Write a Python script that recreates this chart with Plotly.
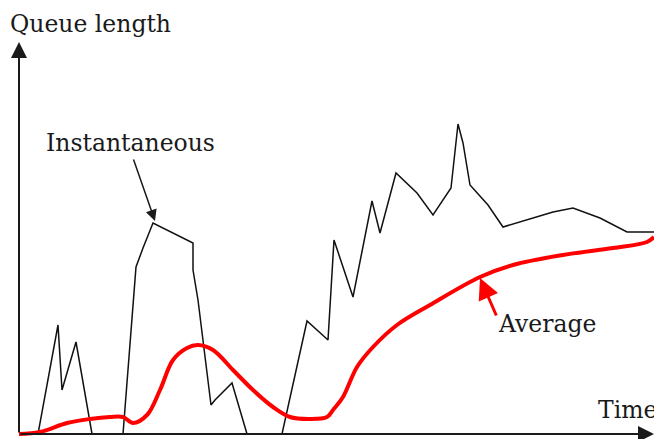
import plotly.graph_objects as go

# Instantaneous queue length (time, length)
inst_time = [0, 19, 39, 43, 57, 73, 104, 114, 117, 124, 134, 174, 174, 179, 192, 196, 213, 228, 263, 288, 309, 315, 334, 353, 361, 377, 398, 414, 432, 439, 444, 451, 469, 484, 534, 554, 581, 608, 635]
inst_len = [0, 0, 109, 44, 92, 0, 0, 136, 167, 186, 211, 191, 164, 134, 29, 34, 51, 0, 0, 113, 94, 194, 137, 233, 201, 261, 241, 219, 246, 310, 291, 249, 229, 207, 222, 226, 216, 202, 202]

# Average queue length
avg_time = [0, 21, 48, 71, 91, 104, 114, 128, 141, 154, 168, 179, 194, 214, 234, 254, 271, 291, 308, 314, 324, 338, 354, 378, 411, 461, 494, 544, 594, 628, 635]
avg_len = [0, 2, 11, 15, 17, 17, 11, 19, 44, 74, 86, 89, 84, 64, 44, 27, 17, 15, 17, 24, 37, 67, 87, 109, 129, 157, 169, 179, 186, 192, 197]

FONT = "DejaVu Serif"
INK = "#1a1a1a"
FS = 23.5

fig = go.Figure()
fig.add_trace(go.Scatter(x=inst_time, y=inst_len, mode="lines",
                         line=dict(color="#111111", width=1.5), hoverinfo="skip"))
fig.add_trace(go.Scatter(x=avg_time, y=avg_len, mode="lines", line_shape="spline",
                         line=dict(color="#ff0000", width=4), hoverinfo="skip"))

annotations = [
    # axes with arrowheads
    dict(x=0, y=392, ax=0, ay=0, xref="x", yref="y", axref="x", ayref="y",
         showarrow=True, arrowhead=2, arrowsize=1.6, arrowwidth=2, arrowcolor=INK, text=""),
    dict(x=635, y=0, ax=0, ay=0, xref="x", yref="y", axref="x", ayref="y",
         showarrow=True, arrowhead=2, arrowsize=1.6, arrowwidth=2, arrowcolor=INK, text=""),
    # labels
    dict(x=-11, y=410, xref="x", yref="y", text="Queue length", showarrow=False,
         xanchor="left", yanchor="middle", font=dict(family=FONT, size=FS, color=INK)),
    dict(x=25, y=291, xref="x", yref="y", text="Instantaneous", showarrow=False,
         xanchor="left", yanchor="middle", font=dict(family=FONT, size=FS, color=INK)),
    dict(x=477, y=110, xref="x", yref="y", text="Average", showarrow=False,
         xanchor="left", yanchor="middle", font=dict(family=FONT, size=FS, color=INK)),
    dict(x=577, y=24, xref="x", yref="y", text="Time", showarrow=False,
         xanchor="left", yanchor="middle", font=dict(family=FONT, size=FS, color=INK)),
    # pointer arrows
    dict(x=136, y=213, ax=114, ay=276, xref="x", yref="y", axref="x", ayref="y",
         showarrow=True, arrowhead=2, arrowsize=1.5, arrowwidth=1.5, arrowcolor=INK, text=""),
    dict(x=461, y=156, ax=478, ay=117, xref="x", yref="y", axref="x", ayref="y",
         showarrow=True, arrowhead=2, arrowsize=1.4, arrowwidth=3, arrowcolor="#ff0000", text=""),
]

fig.update_layout(
    width=654, height=439,
    margin=dict(l=0, r=0, t=0, b=0),
    paper_bgcolor="white", plot_bgcolor="white",
    showlegend=False,
    annotations=annotations,
    xaxis=dict(range=[-19, 635], visible=False, fixedrange=True),
    yaxis=dict(range=[-5, 434], visible=False, fixedrange=True),
)

fig.write_html("out.html", config={"displayModeBar": False},
               post_script="document.body.style.margin='0';document.body.style.overflow='hidden';")
